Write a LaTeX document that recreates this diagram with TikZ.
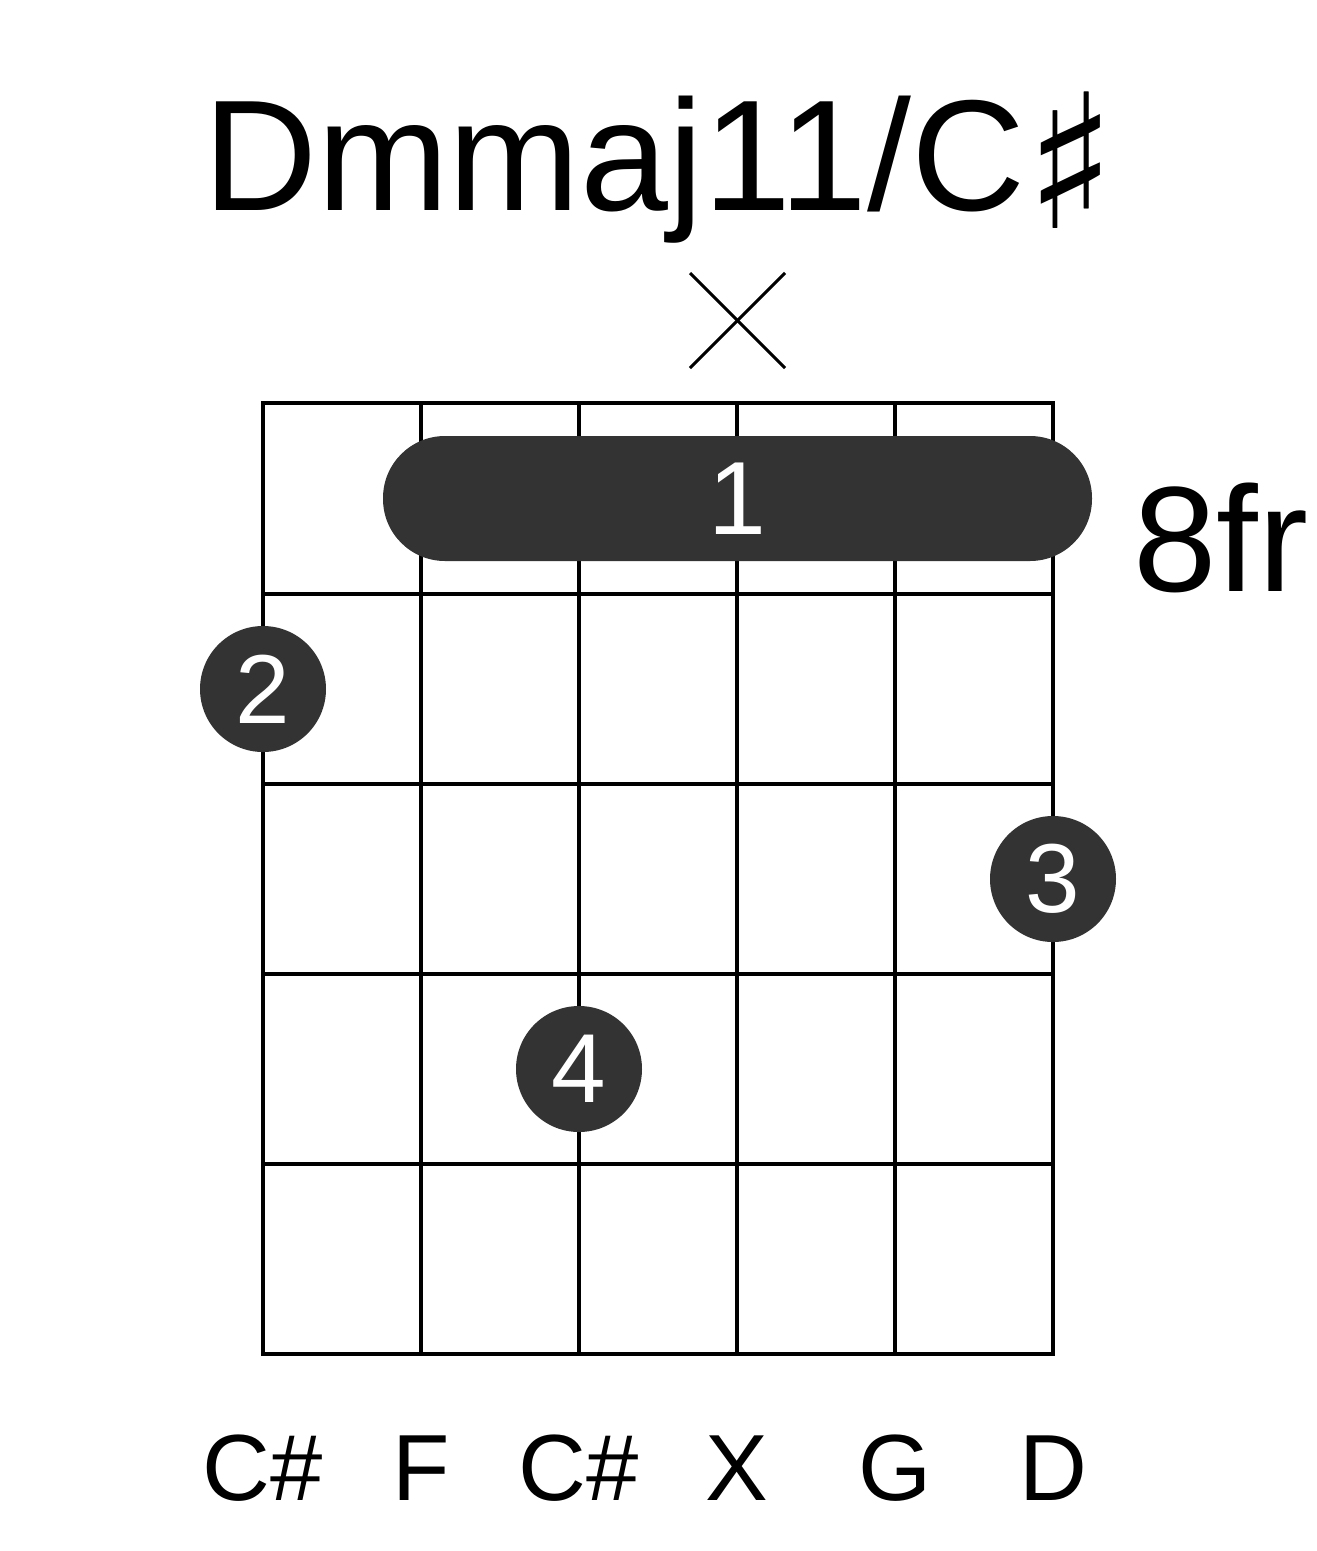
\documentclass[tikz,border=0pt]{standalone}
\usepackage{fontspec}
\setmainfont{Liberation Sans}
\newfontfamily\dvfont{DejaVu Sans}
\definecolor{dotgray}{HTML}{333333}
\begin{document}
\begin{tikzpicture}[x=1pt,y=-1pt,
  gridline/.style={line width=4pt,black},
  fingerdot/.style={circle,fill=dotgray,minimum size=126pt,inner sep=0pt,text=white,font=\fontsize{98}{98}\selectfont},
  notelabel/.style={anchor=base,font=\fontsize{94}{94}\selectfont},
  mutemark/.style={line width=3pt,black}]
\useasboundingbox (0,0) rectangle (1317,1551);
% grid
\foreach \i/\x in {1/263,2/421,3/579,4/737,5/895,6/1053}{
  \coordinate (st\i) at (\x,403);
  \coordinate (sb\i) at (\x,1354);
  \draw[gridline] (st\i) -- (sb\i);
}
\foreach \j/\y in {0/403,1/594,2/784,3/974,4/1164,5/1354}{
  \coordinate (fl\j) at (263,\y);
  \coordinate (fr\j) at (1053,\y);
  \draw[gridline,line cap=rect] (fl\j) -- (fr\j);
}
% title
\node[anchor=base west,inner sep=0pt,font=\fontsize{158}{158}\selectfont] (title) at (203,210) {Dmmaj11/C\raisebox{-18pt}{\dvfont\fontsize{187}{187}\selectfont ♯}};
% mute mark
\coordinate (m1) at (690,273);
\coordinate (m2) at (785,368);
\coordinate (m3) at (785,273);
\coordinate (m4) at (690,368);
\draw[mutemark] (m1) -- (m2);
\draw[mutemark] (m3) -- (m4);
% barre
\node[fill=dotgray,rounded corners=62pt,minimum width=709pt,minimum height=125pt,inner sep=0pt] (barre) at (737.5,498.5) {};
\node[text=white,inner sep=0pt,font=\fontsize{104}{104}\selectfont] (f1) at (737,498.5) {1};
% fret label
\node[anchor=base west,inner sep=0pt,font=\fontsize{150}{150}\selectfont] (fret) at (1133,591) {8fr};
% dots
\node[fingerdot] (f2) at (263,689) {2};
\node[fingerdot] (f3) at (1053,879) {3};
\node[fingerdot] (f4) at (579,1069) {4};
% bottom labels
\node[notelabel] (n1) at (263,1500) {C\#};
\node[notelabel] (n2) at (421,1500) {F};
\node[notelabel] (n3) at (579,1500) {C\#};
\node[notelabel] (n4) at (737,1500) {X};
\node[notelabel] (n5) at (895,1500) {G};
\node[notelabel] (n6) at (1053,1500) {D};
\end{tikzpicture}
\end{document}
